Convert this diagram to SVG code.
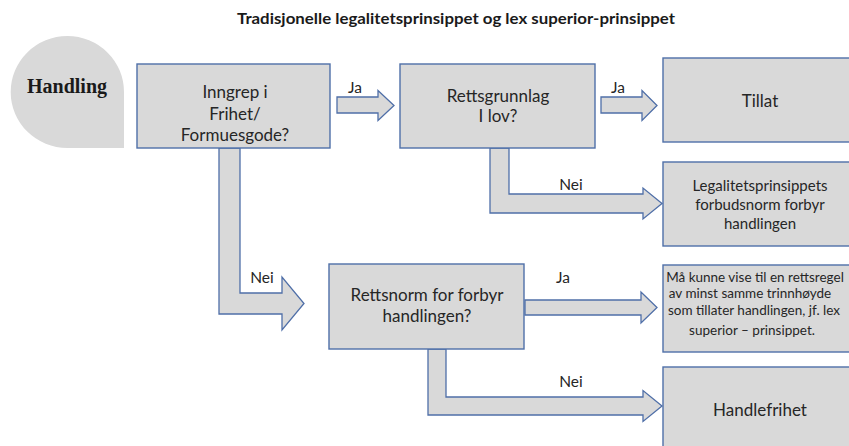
<svg xmlns="http://www.w3.org/2000/svg" width="849" height="446" viewBox="0 0 849 446">
  <style>
    .box { fill: #d9d9d9; stroke: #4f6fa8; stroke-width: 1.4; }
    .arrow { fill: #d9d9d9; stroke: #4f6fa8; stroke-width: 1.3; stroke-linejoin: miter; }
    .t { font-family: Lato, "Liberation Sans", sans-serif; fill: #262626; text-anchor: middle; }
    .lbl { font-family: Lato, "Liberation Sans", sans-serif; fill: #262626; font-size: 15.5px; text-anchor: middle; }
    .title { font-family: Lato, "Liberation Sans", sans-serif; font-weight: bold; font-size: 15.5px; fill: #1a1a1a; text-anchor: middle; }
  </style>
  <rect width="849" height="446" fill="#ffffff"/>

  <text class="title" x="456" y="24" textLength="438" lengthAdjust="spacingAndGlyphs">Tradisjonelle legalitetsprinsippet og lex superior-prinsippet</text>

  <!-- connectors: block arrows between the decision boxes -->
  <g id="connectors">
    <polygon class="arrow" points="337,97 378,97 378,90.5 394,105.5 378,120.5 378,113 337,113"/>
    <polygon class="arrow" points="601,97 642,97 642,90.5 657,105.5 642,120.5 642,113 601,113"/>
    <polygon class="arrow" points="490,148 509,148 509,194 643,194 643,188 662,203.5 643,219 643,213 490,213"/>
    <polygon class="arrow" points="219,148 240,148 240,293 282,293 282,277 304,303.5 282,330 282,314 219,314"/>
    <polygon class="arrow" points="525,300 641,300 641,292 657,307.5 641,323 641,315 525,315"/>
    <polygon class="arrow" points="428,349 446,349 446,397 643,397 643,390.5 662,406 643,421.5 643,415 428,415"/>
    <text class="lbl" x="355" y="93">Ja</text>
    <text class="lbl" x="618" y="93">Ja</text>
    <text class="lbl" x="571" y="190">Nei</text>
    <text class="lbl" x="262" y="283">Nei</text>
    <text class="lbl" x="563" y="283">Ja</text>
    <text class="lbl" x="571" y="387">Nei</text>
  </g>

  <g id="handling">
    <path d="M 10.7,92 A 56.65,56 0 0 1 67.35,36 A 56.65,56 0 0 1 124,92 L 124,148 L 67.35,148 A 56.65,56 0 0 1 10.7,92 Z" fill="#d9d9d9"/>
    <text x="67" y="93" font-family="'Liberation Serif', serif" font-weight="bold" font-size="20" fill="#1a1a1a" text-anchor="middle">Handling</text>
  </g>

  <g id="inngrep">
    <rect class="box" x="137" y="64" width="193" height="84"/>
    <text class="t" font-size="17" x="235" y="98">Inngrep i</text>
    <text class="t" font-size="17" x="235" y="120">Frihet/</text>
    <text class="t" font-size="17" x="235" y="141">Formuesgode?</text>
  </g>

  <g id="rettsgrunnlag">
    <rect class="box" x="400" y="64" width="195" height="84"/>
    <text class="t" font-size="17" x="498" y="102">Rettsgrunnlag</text>
    <text class="t" font-size="17" x="498" y="122">I lov?</text>
  </g>

  <g id="tillat">
    <rect class="box" x="663" y="58" width="200" height="84"/>
    <text class="t" font-size="17" x="760" y="107">Tillat</text>
  </g>

  <g id="forbudsnorm">
    <rect class="box" x="663" y="162" width="200" height="84"/>
    <text class="t" font-size="15" x="760" y="191">Legalitetsprinsippets</text>
    <text class="t" font-size="15" x="760" y="210">forbudsnorm forbyr</text>
    <text class="t" font-size="15" x="760" y="229">handlingen</text>
  </g>

  <g id="rettsnorm">
    <rect class="box" x="329" y="264" width="195" height="85"/>
    <text class="t" font-size="17" x="427" y="301">Rettsnorm for forbyr</text>
    <text class="t" font-size="17" x="427" y="322">handlingen?</text>
  </g>

  <g id="lex-superior">
    <rect class="box" x="663" y="265" width="200" height="87"/>
    <text class="t" font-size="13.5" x="755" y="282">Må kunne vise til en rettsregel</text>
    <text class="t" font-size="13.5" x="750" y="298">av minst samme trinnhøyde</text>
    <text class="t" font-size="13.5" x="754" y="315">som tillater handlingen, jf. lex</text>
    <text class="t" font-size="13.5" x="752" y="335">superior – prinsippet.</text>
  </g>

  <g id="handlefrihet">
    <rect class="box" x="663" y="367" width="200" height="90"/>
    <text class="t" font-size="17" x="760" y="416">Handlefrihet</text>
  </g>
</svg>
